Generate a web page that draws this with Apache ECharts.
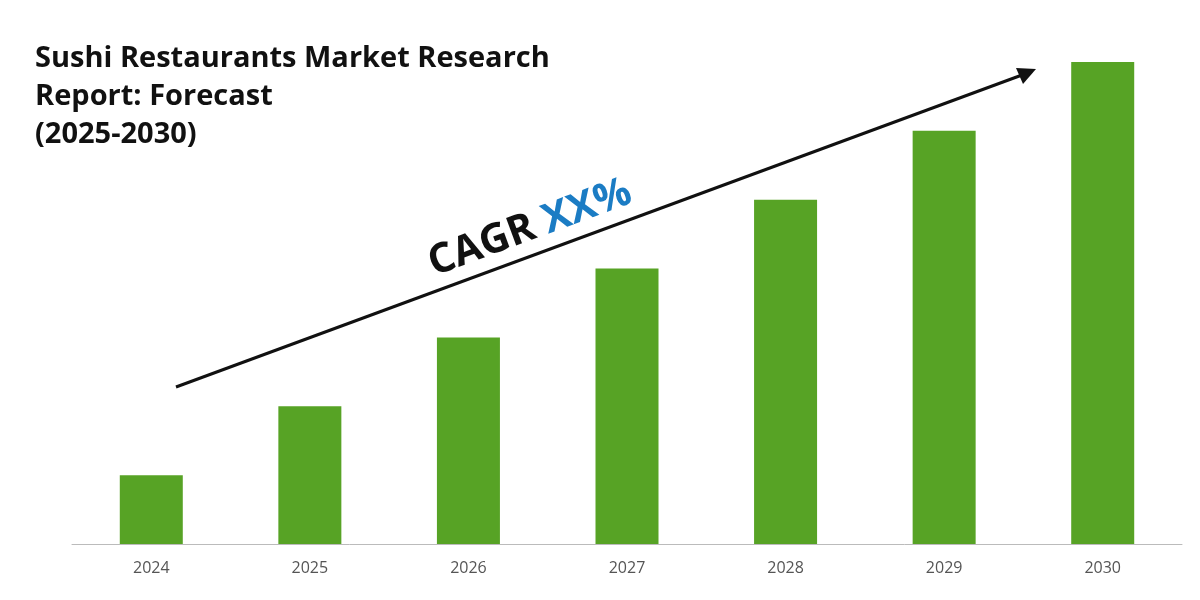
<!DOCTYPE html>
<html><head><meta charset="utf-8">
<script src="https://cdn.jsdelivr.net/npm/echarts@6/dist/echarts.min.js"></script>
<style>html,body{margin:0;padding:0;background:#fff}#c{width:1200px;height:600px}</style>
</head><body><div id="c"></div>
<script>
const categories = ['2024','2025','2026','2027','2028','2029','2030'];
const values = [1, 2, 3, 4, 5, 6, 7];
const titleLines = ['Sushi Restaurants Market Research', 'Report: Forecast', '(2025-2030)'];
const chart = echarts.init(document.getElementById('c'));
chart.setOption({
  animation: false,
  grid: {left: 72, right: 18, top: 62, bottom: 56},
  xAxis: {type: 'category', data: categories,
    axisLine: {lineStyle: {color: '#bbb'}}, axisTick: {show: false},
    axisLabel: {color: '#555', fontSize: 16, margin: 16, fontFamily: 'Open Sans'}},
  yAxis: {type: 'value', min: 0, max: 7, show: false, splitLine: {show: false}},
  series: [{type: 'bar', data: values, barWidth: 63, itemStyle: {color: '#57a325'}}],
  graphic: [
    {type: 'text', left: 35, top: 40, style: {text: titleLines.join('\n'), font: 'bold 29px "Open Sans"', lineHeight: 38, fill: '#111'}},
    {type: 'line', shape: {x1: 176, y1: 387, x2: 1022, y2: 75}, style: {stroke: '#111', lineWidth: 3}},
    {type: 'polygon', shape: {points: [[1036,69],[1016,68],[1023,84]]}, style: {fill: '#111'}},
    {type: 'text', x: 530, y: 228, rotation: 20.3 * Math.PI / 180,
      style: {text: '{a|CAGR }{b|XX%}', align: 'center', verticalAlign: 'middle',
        rich: {a: {font: 'bold 41px "Open Sans"', fill: '#111'}, b: {font: 'bold 41px "Open Sans"', fill: '#1b7cc4'}}}}
  ]
});
</script></body></html>
